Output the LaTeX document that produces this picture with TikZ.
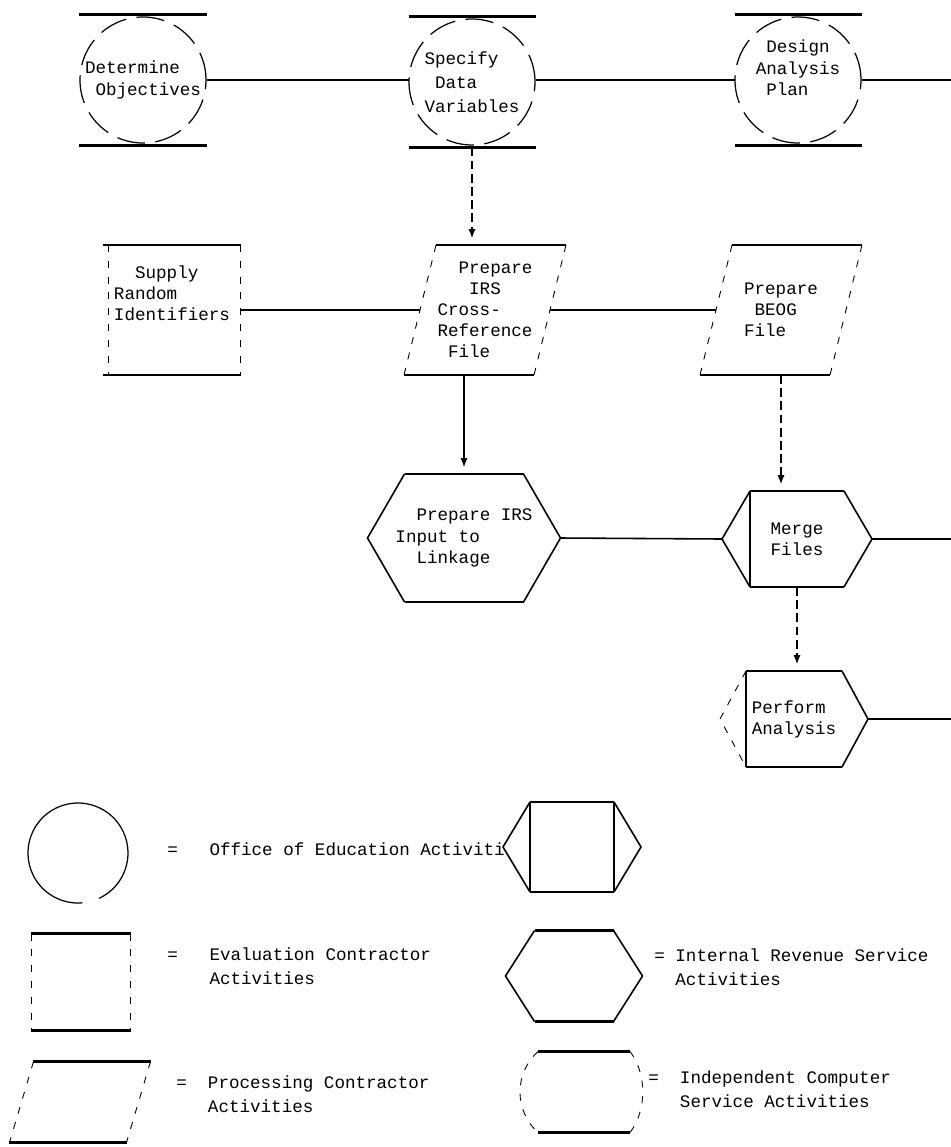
\documentclass[tikz,border=0pt]{standalone}
\usepackage{fontspec}
\setmonofont{Liberation Mono}
\usetikzlibrary{calc,arrows.meta}
\newcommand{\ind}[1]{\hspace*{\numexpr 6*#1\relax pt}}

\begin{document}
\begin{tikzpicture}[x=0.2mm, y=-0.2mm,
    proc/.style={draw=none, inner sep=0pt, outer sep=0pt, align=left, font=\ttfamily\fontsize{10}{12}\selectfont},
    cbox/.style={proc, minimum width=25.4mm, minimum height=26.2mm},
    pbox/.style={proc, minimum width=26mm, minimum height=26mm},
    hline/.style={line width=1.3pt},
    conn/.style={line width=0.9pt},
    side/.style={line width=0.5pt, dash pattern=on 4pt off 5pt},
    ring/.style={line width=0.7pt, dash pattern=on 16pt off 6pt},
    flow/.style={line width=0.6pt, dash pattern=on 5pt off 2.5pt, -{Latex[length=5pt,width=4pt]}, shorten >=4pt},
    legtxt/.style={anchor=base west, inner sep=0pt, align=left, font=\ttfamily\fontsize{10}{13.6}\selectfont}
  ]
  \useasboundingbox (0,0) rectangle (951,1147);

  % top row
  \node[cbox, font=\ttfamily\fontsize{10}{13}\selectfont] (objectives) at (143,80) {Determine\\\ind{1}Objectives};
  \node[cbox, font=\ttfamily\fontsize{10}{13.5}\selectfont] (variables) at (472,82) {Specify\\\ind{1}Data\\Variables};
  \node[cbox, text depth=14pt] (plan) at (798,80) {\ind{1}Design\\Analysis\\\ind{1}Plan};
  \coordinate (edgeA) at (951,80);

  % middle row
  \node[proc, minimum width=27.6mm, minimum height=26mm, text depth=19pt] (supply) at (172,310) {\ind{2}Supply\\Random\\Identifiers};
  \node[pbox] (xref) at (485,310) {\ind{2}Prepare\\\ind{3}IRS\\Cross-\\Reference\\\ind{1}File};
  \node[pbox] (beog) at (781,310) {Prepare\\\ind{1}BEOG\\File};

  % hexagons
  \node[proc, minimum width=38.6mm, minimum height=25.6mm] (irsinput) at (464,538) {\ind{2}Prepare IRS\\Input to\\\ind{2}Linkage};
  \node[proc, minimum width=30mm, minimum height=19.2mm] (merge) at (797,539) {Merge\\Files};
  \node[proc, minimum width=29.6mm, minimum height=19.2mm] (perform) at (794,719) {Perform\\Analysis};
  \coordinate (edgeB) at (951,539);
  \coordinate (edgeC) at (951,719);

  % shapes
  \foreach \n in {objectives,variables,plan} {
    \draw[hline] (\n.north west) -- (\n.north east);
    \draw[hline] (\n.south west) -- (\n.south east);
    \draw[ring] (\n.center) circle[radius=12.6mm];
  }
  \draw[hline] (supply.north west) -- (supply.north east);
  \draw[hline] (supply.south west) -- (supply.south east);
  \draw[side] ($(supply.north west)+(5,0)$) -- ($(supply.south west)+(5,0)$);
  \draw[side] ($(supply.north east)+(-1,0)$) -- ($(supply.south east)+(-1,0)$);

  \foreach \n/\s in {xref/16,beog/16} {
    \draw[hline] ($(\n.north west)+(\s,0)$) -- ($(\n.north east)+(\s,0)$);
    \draw[hline] ($(\n.south west)+(-\s,0)$) -- ($(\n.south east)+(-\s,0)$);
    \draw[side] ($(\n.north west)+(\s,0)$) -- ($(\n.south west)+(-\s,0)$);
    \draw[side] ($(\n.north east)+(\s,0)$) -- ($(\n.south east)+(-\s,0)$);
  }

  \foreach \n/\d in {irsinput/37,merge/28,perform/26} {
    \draw[hline] ($(\n.north west)+(\d,0)$) -- ($(\n.north east)+(-\d,0)$);
    \draw[hline] ($(\n.south west)+(\d,0)$) -- ($(\n.south east)+(-\d,0)$);
    \draw[conn] ($(\n.north east)+(-\d,0)$) -- (\n.east) -- ($(\n.south east)+(-\d,0)$);
  }
  \draw[conn] ($(irsinput.north west)+(37,0)$) -- (irsinput.west) -- ($(irsinput.south west)+(37,0)$);
  \draw[conn] ($(merge.north west)+(28,0)$) -- (merge.west) -- ($(merge.south west)+(28,0)$);
  \draw[side] ($(perform.north west)+(26,0)$) -- (perform.west) -- ($(perform.south west)+(26,0)$);
  \draw[conn] ($(merge.north west)+(28,0)$) -- ($(merge.south west)+(28,0)$);
  \draw[conn] ($(perform.north west)+(26,0)$) -- ($(perform.south west)+(26,0)$);

  % connectors
  \draw[conn] (objectives.east) -- (objectives.east -| variables.west);
  \draw[conn] (objectives.east -| variables.east) -- (plan.west);
  \draw[conn] (plan.east) -- (edgeA);
  \draw[conn] (supply.east) -- (xref.west);
  \draw[conn] (xref.east) -- (beog.west);
  \draw[conn] (irsinput.east) -- (merge.west);
  \draw[conn] (merge.east) -- (edgeB);
  \draw[conn] (perform.east) -- (edgeC);
  \draw[flow] (variables.south) -- (variables.south |- xref.north);
  \draw[flow, solid] (irsinput.north |- xref.south) -- (irsinput.north);
  \draw[flow] (beog.south) -- (beog.south |- merge.north);
  \draw[flow] (merge.south) -- (merge.south |- perform.north);

  % legend
  \node[legtxt] (legoe) at (167,855) {=\ \ \ Office of Education Activities};
  \node[legtxt] (legeval) at (167,984) {=\ \ \ Evaluation Contractor\\\ind{4}Activities};
  \node[legtxt] (legproc) at (176,1112) {=\ \ Processing Contractor\\\ind{3}Activities};
  \node[legtxt] (legirs) at (654,985) {=\ Internal Revenue Service\\\ind{2}Activities};
  \node[legtxt] (legics) at (648,1107) {=\ \ Independent Computer\\\ind{3}Service Activities};

  \node[draw=none, shape=circle, minimum size=20mm, inner sep=0pt, outer sep=0pt] (legcirc) at (78,853) {};
  \draw[line width=0.7pt] (legcirc.-65) arc[start angle=-65, end angle=275, radius=10mm];
  \node[proc, minimum width=19.8mm, minimum height=19.4mm] (legbox) at (81,982) {};
  \draw[hline] (legbox.north west) -- (legbox.north east);
  \draw[hline] (legbox.south west) -- (legbox.south east);
  \draw[side] (legbox.north west) -- (legbox.south west);
  \draw[side] (legbox.north east) -- (legbox.south east);
  \node[proc, minimum width=23.4mm, minimum height=16.2mm] (legpara) at (80,1102) {};
  \draw[hline] ($(legpara.north west)+(12,0)$) -- ($(legpara.north east)+(12,0)$);
  \draw[hline] ($(legpara.south west)+(-12,0)$) -- ($(legpara.south east)+(-12,0)$);
  \draw[side] ($(legpara.north west)+(12,0)$) -- ($(legpara.south west)+(-12,0)$);
  \draw[side] ($(legpara.north east)+(12,0)$) -- ($(legpara.south east)+(-12,0)$);

  \node[proc, minimum width=27.6mm, minimum height=18mm] (leghexbox) at (572,847) {};
  \node[proc, minimum width=27.4mm, minimum height=18.2mm] (leghex) at (574,976) {};
  \fill[white] (leghexbox.west) -- ($(leghexbox.north west)+(27,0)$) -- ($(leghexbox.north east)+(-27,0)$) -- (leghexbox.east)
    -- ($(leghexbox.south east)+(-27,0)$) -- ($(leghexbox.south west)+(27,0)$) -- cycle;
  \foreach \n/\d in {leghexbox/27,leghex/29} {
    \draw[hline] ($(\n.north west)+(\d,0)$) -- ($(\n.north east)+(-\d,0)$);
    \draw[hline] ($(\n.south west)+(\d,0)$) -- ($(\n.south east)+(-\d,0)$);
    \draw[conn] ($(\n.north west)+(\d,0)$) -- (\n.west) -- ($(\n.south west)+(\d,0)$);
    \draw[conn] ($(\n.north east)+(-\d,0)$) -- (\n.east) -- ($(\n.south east)+(-\d,0)$);
  }
  \draw[conn] ($(leghexbox.north west)+(27,0)$) -- ($(leghexbox.south west)+(27,0)$);
  \draw[conn] ($(leghexbox.north east)+(-27,0)$) -- ($(leghexbox.south east)+(-27,0)$);

  \node[proc, minimum width=18.4mm, minimum height=16.2mm] (legbarrel) at (584,1092) {};
  \draw[hline] (legbarrel.north west) -- (legbarrel.north east);
  \draw[hline] (legbarrel.south west) -- (legbarrel.south east);
  \draw[side] (legbarrel.north west) .. controls ($(legbarrel.north west)+(-24,22)$) and ($(legbarrel.south west)+(-24,-22)$) .. (legbarrel.south west);
  \draw[side] (legbarrel.north east) .. controls ($(legbarrel.north east)+(17,22)$) and ($(legbarrel.south east)+(17,-22)$) .. (legbarrel.south east);
\end{tikzpicture}
\end{document}
